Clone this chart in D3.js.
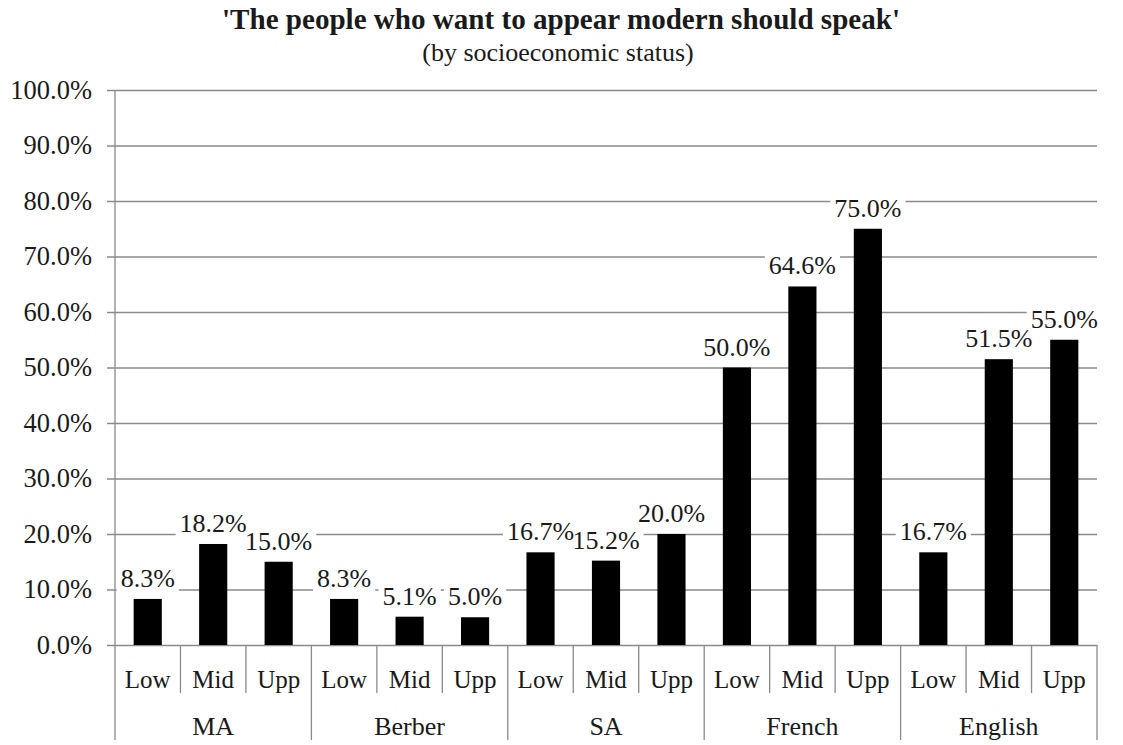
<!DOCTYPE html>
<html><head><meta charset="utf-8">
<script src="https://cdn.jsdelivr.net/npm/d3@7"></script>
<style>body{margin:0;background:#fff}svg{display:block}text{font-family:"Liberation Serif","Times New Roman",serif;fill:#1a1a1a}</style>
</head><body>
<svg id="c" width="1123" height="745"></svg>
<script>
const groups = ["MA","Berber","SA","French","English"];
const levels = ["Low","Mid","Upp"];
const values = [
  [8.3,18.2,15.0],
  [8.3,5.1,5.0],
  [16.7,15.2,20.0],
  [50.0,64.6,75.0],
  [16.7,51.5,55.0]
];
const yTicks = [0,10,20,30,40,50,60,70,80,90,100];
const title = "'The people who want to appear modern should speak'";
const subtitle = "(by socioeconomic status)";

const svg = d3.select("#c");
const L=115, R=1097, T=90, B=645;
const FS = "25px";
const data = [];
groups.forEach((g,gi)=>levels.forEach((l,li)=>data.push({g,l,key:g+"|"+l,v:values[gi][li]})));

const x = d3.scaleBand().domain(data.map(d=>d.key)).range([L,R]).paddingInner(0).paddingOuter(0);
const y = d3.scaleLinear().domain([0,100]).range([B,T]);
const grid="#8a8a8a";

// title
svg.append("text").attr("x",561).attr("y",29).attr("text-anchor","middle")
  .attr("textLength",678).attr("lengthAdjust","spacingAndGlyphs")
  .style("font-size","29px").style("font-weight","bold").text(title);
svg.append("text").attr("x",558).attr("y",61).attr("text-anchor","middle")
  .style("font-size","26px").text(subtitle);

// gridlines + ticks
const yAxis = d3.axisLeft(y).tickValues(yTicks).tickSize(-(R-L)).tickFormat(d=>d.toFixed(1)+"%").tickPadding(23);
const ga = svg.append("g").attr("transform",`translate(${L},0)`).call(yAxis);
ga.select(".domain").remove();
ga.selectAll(".tick line").attr("stroke",grid).attr("stroke-width",1.3).attr("x1",-8);
ga.selectAll(".tick text").style("font-size","26.5px").attr("fill","#1a1a1a").attr("font-family",null);
svg.append("line").attr("x1",L).attr("x2",L).attr("y1",T).attr("y2",B).attr("stroke",grid).attr("stroke-width",1.3);

// bars
const bw = x.bandwidth()*0.43;
svg.append("g").selectAll("rect").data(data).join("rect")
  .attr("x",d=>x(d.key)+(x.bandwidth()-bw)/2).attr("width",bw)
  .attr("y",d=>y(d.v)).attr("height",d=>B-y(d.v)).attr("fill","#000");

// labels with white backgrounds
const lg = svg.append("g");
data.forEach(d=>{
  const cx = x(d.key)+x.bandwidth()/2;
  const t = lg.append("text").attr("x",cx).attr("y",y(d.v)-12).attr("text-anchor","middle")
    .style("font-size","26px").text(d.v.toFixed(1)+"%");
  const bb = t.node().getBBox();
  lg.insert("rect","text").attr("x",bb.x-4).attr("y",bb.y+2).attr("width",bb.width+8).attr("height",bb.height-3).attr("fill","#fff");
});

// category axis
const ax = svg.append("g");
data.forEach((d,i)=>{
  const x0 = x(d.key);
  const cx = x0+x.bandwidth()/2;
  ax.append("text").attr("x",cx).attr("y",688).attr("text-anchor","middle").style("font-size",FS).text(d.l);
  if(i%3!==0) ax.append("line").attr("x1",x0).attr("x2",x0).attr("y1",B).attr("y2",693).attr("stroke",grid).attr("stroke-width",1.3);
});
groups.forEach((g,gi)=>{
  const x0 = x(g+"|Low"), x1 = x(g+"|Upp")+x.bandwidth();
  ax.append("line").attr("x1",x0).attr("x2",x0).attr("y1",B).attr("y2",740).attr("stroke",grid).attr("stroke-width",1.3);
  if(gi===groups.length-1) ax.append("line").attr("x1",x1).attr("x2",x1).attr("y1",B).attr("y2",740).attr("stroke",grid).attr("stroke-width",1.3);
  ax.append("text").attr("x",(x0+x1)/2).attr("y",735).attr("text-anchor","middle").style("font-size","26px").text(g);
});
</script>
</body></html>
